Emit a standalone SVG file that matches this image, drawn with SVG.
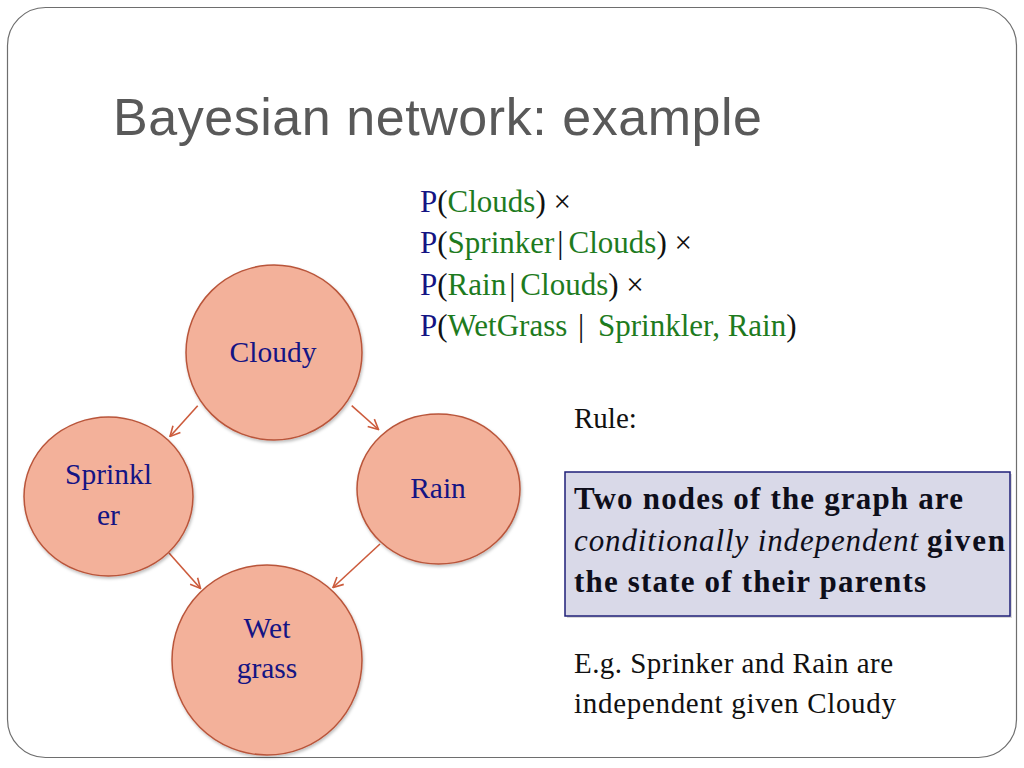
<svg xmlns="http://www.w3.org/2000/svg" width="1024" height="768" viewBox="0 0 1024 768">
<defs>
<style>
.serif{font-family:"Liberation Serif","Times New Roman",serif;}
.node{fill:#F3B19A;stroke:#B9553A;stroke-width:1.5;}
.lbl{font-family:"Liberation Serif","Times New Roman",serif;font-size:29.5px;fill:#141484;text-anchor:middle;}
.edge{fill:none;stroke:#CC5B3C;stroke-width:1.6;}
.P{fill:#141484;}
.G{fill:#1E7B1E;}
.K{fill:#111111;}
</style>
<marker id="arr" viewBox="0 0 12 12" markerWidth="12" markerHeight="12" refX="11" refY="6" orient="auto" markerUnits="userSpaceOnUse">
<path d="M1,1 L11,6 L1,11" fill="none" stroke="#CC5B3C" stroke-width="1.6"/>
</marker>
<filter id="sh" x="-20%" y="-20%" width="140%" height="140%">
<feDropShadow dx="1" dy="2" stdDeviation="1.5" flood-color="#000000" flood-opacity="0.25"/>
</filter>
</defs>
<rect width="1024" height="768" fill="#FFFFFF"/>
<rect x="7.5" y="7.5" width="1009" height="750" rx="38" ry="38" fill="none" stroke="#6E6E6E" stroke-width="1.2"/>
<text x="113" y="135" font-family="'Liberation Sans',Arial,sans-serif" font-size="52" fill="#595959" textLength="649">Bayesian network: example</text>

<g id="connectors">
<path class="edge" d="M197.7,405.7 L170,436.5" marker-end="url(#arr)"/>
<path class="edge" d="M351.7,405.7 L378.5,429.5" marker-end="url(#arr)"/>
<path class="edge" d="M169,553 L200.5,588.5" marker-end="url(#arr)"/>
<path class="edge" d="M380,544 L333,587.5" marker-end="url(#arr)"/>
</g>

<g id="node-cloudy">
<ellipse class="node" cx="274" cy="352.5" rx="88" ry="87.5" filter="url(#sh)"/>
<text class="lbl" x="273" y="362">Cloudy</text>
</g>
<g id="node-sprinkler">
<ellipse class="node" cx="108.5" cy="496.5" rx="84.5" ry="79.5" filter="url(#sh)"/>
<text class="lbl" x="108.5" y="484">Sprinkl</text>
<text class="lbl" x="108.5" y="525">er</text>
</g>
<g id="node-rain">
<ellipse class="node" cx="438.5" cy="489" rx="81.5" ry="75" filter="url(#sh)"/>
<text class="lbl" x="438" y="498">Rain</text>
</g>
<g id="node-wetgrass">
<ellipse class="node" cx="267" cy="660" rx="95" ry="95" filter="url(#sh)"/>
<text class="lbl" x="267" y="638">Wet</text>
<text class="lbl" x="267" y="678">grass</text>
</g>

<g id="formula" class="serif" font-size="31">
<text x="420" y="212"><tspan class="P">P</tspan><tspan class="K">(</tspan><tspan class="G">Clouds</tspan><tspan class="K">) ×</tspan></text>
<text x="420" y="253"><tspan class="P">P</tspan><tspan class="K">(</tspan><tspan class="G">Sprinker</tspan><tspan class="K" dx="3">|</tspan><tspan class="G" dx="5">Clouds</tspan><tspan class="K">) ×</tspan></text>
<text x="420" y="295"><tspan class="P">P</tspan><tspan class="K">(</tspan><tspan class="G">Rain</tspan><tspan class="K" dx="3">|</tspan><tspan class="G" dx="5">Clouds</tspan><tspan class="K">) ×</tspan></text>
<text x="420" y="336"><tspan class="P">P</tspan><tspan class="K">(</tspan><tspan class="G">WetGrass</tspan><tspan class="K" dx="3"> | </tspan><tspan class="G" dx="6">Sprinkler, Rain</tspan><tspan class="K">)</tspan></text>
</g>

<text class="serif" x="574" y="428" font-size="29" fill="#111111">Rule:</text>

<g id="rule-box">
<rect x="567" y="474" width="445" height="144" fill="#BFBFBF" opacity="0.6"/>
<rect x="565" y="472" width="445" height="144" fill="#D9D9E8" stroke="#1F1F78" stroke-width="1.5"/>
<text class="serif" x="574" y="509" font-size="31" font-weight="bold" fill="#0E0E1A" textLength="389">Two nodes of the graph are</text>
<text class="serif" x="574" y="551" font-size="31" font-style="italic" fill="#0E0E1A" textLength="344">conditionally independent</text>
<text class="serif" x="927" y="551" font-size="31" font-weight="bold" fill="#0E0E1A" textLength="78">given</text>
<text class="serif" x="574" y="592" font-size="31" font-weight="bold" fill="#0E0E1A" textLength="352">the state of their parents</text>
</g>

<text class="serif" x="574" y="673" font-size="29" fill="#111111" textLength="319">E.g. Sprinker and Rain are</text>
<text class="serif" x="574" y="713" font-size="29" fill="#111111" textLength="322">independent given Cloudy</text>
</svg>
